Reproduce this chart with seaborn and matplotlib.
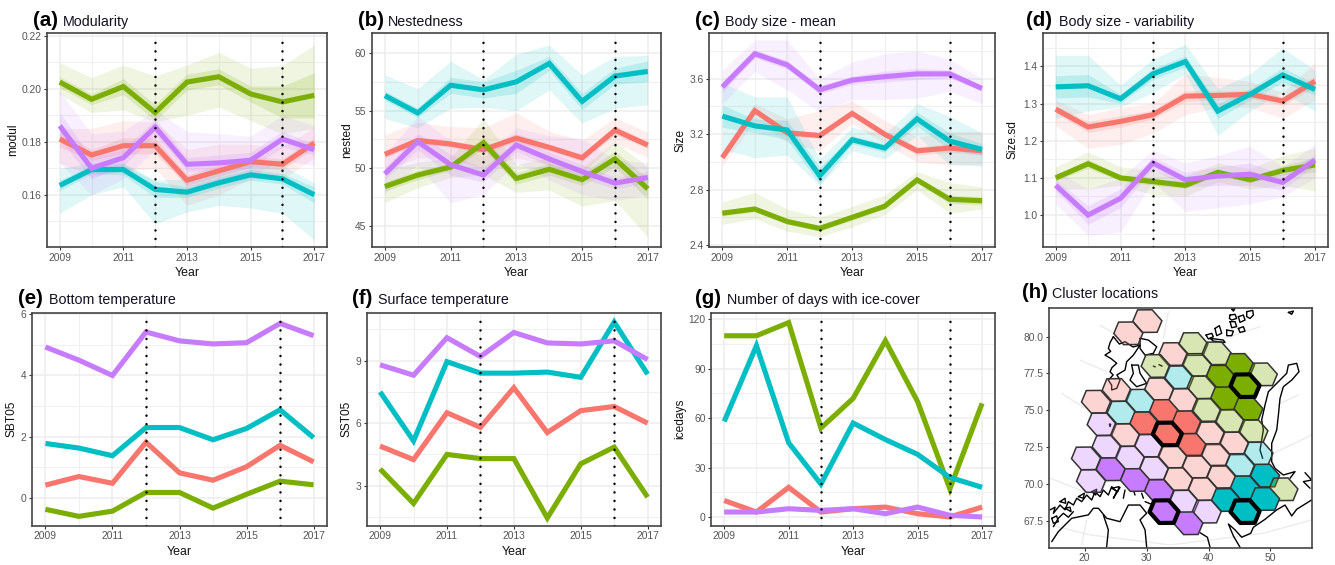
import matplotlib
matplotlib.use('Agg')
import matplotlib.pyplot as plt
import pandas as pd
import seaborn as sns

years = [2009, 2010, 2011, 2012, 2013, 2014, 2015, 2016, 2017]
clusters = ['red', 'green', 'cyan', 'purple']
colours = {'red': '#F8766D', 'green': '#7CAE00', 'cyan': '#00BFC4', 'purple': '#C77CFF'}

# (a) modularity: mean, outer band low/high, inner half width
modul_red = [.181, .175, .1785, .1785, .1655, .169, .1725, .1715, .1795]
modul_red_lo = [.172, .167, .169, .170, .156, .160, .166, .166, .174]
modul_red_hi = [.185, .185, .188, .1875, .177, .179, .179, .178, .1855]
modul_red_se = [.003, .002, .003, .003, .002, .002, .002, .002, .002]
modul_green = [.2025, .196, .2008, .191, .2025, .2045, .198, .195, .1975]
modul_green_lo = [.198, .191, .192, .1875, .190, .193, .188, .183, .185]
modul_green_hi = [.2098, .2042, .2089, .2048, .2089, .2137, .2077, .2087, .2165]
modul_green_se = [.002, .002, .003, .003, .003, .003, .003, .006, .0085]
modul_cyan = [.1635, .1695, .1695, .162, .161, .1645, .1675, .166, .160]
modul_cyan_lo = [.153, .160, .163, .149, .1535, .156, .155, .153, .143]
modul_cyan_hi = [.170, .172, .172, .1655, .166, .170, .172, .171, .1645]
modul_cyan_se = [.002, .0015, .002, .003, .002, .002, .002, .002, .003]
modul_purple = [.186, .170, .174, .1855, .1715, .172, .173, .181, .177]
modul_purple_lo = [.172, .160, .166, .177, .163, .165, .167, .173, .171]
modul_purple_hi = [.199, .183, .184, .192, .1838, .183, .182, .190, .186]
modul_purple_se = [.005, .004, .003, .003, .0025, .003, .003, .003, .002]

# (b) nestedness
nested_red = [51.2, 52.4, 52.1, 51.6, 52.6, 51.8, 50.9, 53.3, 52.0]
nested_red_lo = [49.8, 50.9, 50.8, 50.0, 50.9, 50.3, 49.6, 52.2, 50.9]
nested_red_hi = [52.9, 54.0, 53.6, 53.5, 54.8, 53.2, 52.4, 54.4, 53.1]
nested_red_se = [.3, .3, .3, .3, .4, .3, .3, .4, .3]
nested_green = [48.4, 49.4, 50.1, 52.2, 49.1, 49.9, 49.0, 50.8, 48.2]
nested_green_lo = [47.0, 48.3, 49.2, 49.4, 47.9, 48.1, 46.7, 47.2, 44.0]
nested_green_hi = [49.9, 50.5, 50.9, 54.3, 50.3, 50.9, 50.0, 52.3, 50.1]
nested_green_se = [.4, .4, .3, .5, .5, .5, .5, .7, .9]
nested_cyan = [56.3, 54.8, 57.2, 56.8, 57.5, 59.1, 55.8, 58.0, 58.4]
nested_cyan_lo = [54.3, 53.5, 55.2, 55.3, 55.0, 56.8, 53.9, 55.2, 55.5]
nested_cyan_hi = [58.1, 56.9, 59.3, 57.7, 59.9, 60.7, 58.1, 59.7, 59.8]
nested_cyan_se = [.4, .4, .7, .7, 1.0, .6, .7, .7, .9]
nested_purple = [49.5, 52.3, 50.3, 49.4, 52.0, 50.8, 49.7, 48.7, 49.2]
nested_purple_lo = [47.8, 50.3, 47.0, 47.7, 50.5, 49.0, 47.7, 47.2, 47.7]
nested_purple_hi = [51.2, 54.5, 52.4, 51.0, 53.5, 52.8, 52.6, 50.7, 50.5]
nested_purple_se = [.5, .7, .9, .6, .5, .6, .6, .5, .5]

# (c) body size mean
size_red = [3.03, 3.37, 3.21, 3.19, 3.35, 3.20, 3.08, 3.10, 3.08]
size_red_lo = [2.97, 3.30, 3.14, 3.08, 3.28, 3.13, 3.00, 2.98, 2.98]
size_red_hi = [3.08, 3.42, 3.31, 3.37, 3.44, 3.30, 3.18, 3.22, 3.22]
size_red_se = [.01, .02, .02, .02, .02, .02, .03, .03, .03]
size_green = [2.63, 2.66, 2.57, 2.52, 2.60, 2.68, 2.87, 2.73, 2.72]
size_green_lo = [2.55, 2.59, 2.50, 2.46, 2.53, 2.62, 2.80, 2.63, 2.66]
size_green_hi = [2.71, 2.78, 2.66, 2.60, 2.68, 2.76, 2.93, 2.85, 2.82]
size_green_se = [.02, .02, .02, .02, .02, .02, .02, .03, .03]
size_cyan = [3.33, 3.26, 3.23, 2.90, 3.16, 3.10, 3.31, 3.15, 3.09]
size_cyan_lo = [3.09, 3.03, 3.05, 2.83, 3.08, 3.02, 3.19, 2.98, 2.97]
size_cyan_hi = [3.57, 3.47, 3.47, 3.02, 3.25, 3.20, 3.42, 3.33, 3.21]
size_cyan_se = [.08, .05, .07, .06, .03, .03, .05, .06, .04]
size_purple = [3.54, 3.78, 3.70, 3.52, 3.59, 3.615, 3.635, 3.635, 3.53]
size_purple_lo = [3.42, 3.65, 3.52, 3.36, 3.45, 3.45, 3.46, 3.51, 3.42]
size_purple_hi = [3.66, 3.88, 3.88, 3.60, 3.72, 3.78, 3.80, 3.74, 3.60]
size_purple_se = [.04, .03, .03, .03, .03, .04, .04, .03, .02]

# (d) body size variability
sd_red = [1.285, 1.237, 1.252, 1.27, 1.32, 1.322, 1.325, 1.307, 1.36]
sd_red_lo = [1.24, 1.18, 1.19, 1.22, 1.27, 1.29, 1.29, 1.26, 1.31]
sd_red_hi = [1.31, 1.27, 1.29, 1.30, 1.38, 1.37, 1.36, 1.33, 1.41]
sd_red_se = [.01, .015, .015, .012, .015, .012, .01, .012, .015]
sd_green = [1.10, 1.138, 1.10, 1.09, 1.08, 1.115, 1.095, 1.12, 1.135]
sd_green_lo = [1.07, 1.07, 1.08, 1.055, 1.05, 1.09, 1.07, 1.08, 1.065]
sd_green_hi = [1.13, 1.17, 1.13, 1.12, 1.105, 1.14, 1.125, 1.16, 1.18]
sd_green_se = [.008, .012, .008, .01, .008, .008, .008, .012, .02]
sd_cyan = [1.345, 1.348, 1.313, 1.38, 1.413, 1.28, 1.325, 1.377, 1.338]
sd_cyan_lo = [1.26, 1.28, 1.29, 1.33, 1.38, 1.215, 1.28, 1.33, 1.28]
sd_cyan_hi = [1.43, 1.43, 1.35, 1.42, 1.46, 1.34, 1.38, 1.45, 1.39]
sd_cyan_se = [.03, .03, .012, .015, .015, .02, .015, .02, .015]
sd_purple = [1.08, 1.0, 1.045, 1.14, 1.095, 1.105, 1.11, 1.088, 1.148]
sd_purple_lo = [1.03, .945, .955, 1.09, 1.01, 1.02, 1.03, 1.05, 1.10]
sd_purple_hi = [1.12, 1.07, 1.10, 1.175, 1.14, 1.16, 1.185, 1.13, 1.19]
sd_purple_se = [.015, .025, .025, .015, .02, .025, .03, .02, .015]

# (e) bottom temperature
sbt_red = [.42, .7, .48, 1.82, .82, .58, 1.02, 1.72, 1.18]
sbt_green = [-.37, -.6, -.43, .18, .18, -.33, .12, .55, .43]
sbt_cyan = [1.78, 1.63, 1.38, 2.3, 2.3, 1.9, 2.27, 2.88, 1.97]
sbt_purple = [4.93, 4.5, 4.0, 5.42, 5.13, 5.03, 5.07, 5.7, 5.3]

# (f) surface temperature
sst_red = [4.9, 4.25, 6.5, 5.8, 7.7, 5.55, 6.6, 6.8, 6.0]
sst_green = [3.8, 2.15, 4.5, 4.3, 4.3, 1.45, 4.05, 4.85, 2.45]
sst_cyan = [7.5, 5.15, 8.95, 8.4, 8.4, 8.45, 8.2, 10.85, 8.35]
sst_purple = [8.8, 8.3, 10.1, 9.2, 10.35, 9.85, 9.8, 9.95, 9.05]

# (g) ice days
ice_red = [10, 3, 18, 3, 5, 6, 2, 0, 6]
ice_green = [110, 110, 118, 54, 72, 107, 70, 17, 69]
ice_cyan = [58, 104, 45, 20, 57, 47, 38, 24, 18]
ice_purple = [3, 3, 5, 4, 5, 2, 6, 1, 0]

# (h) map cells: lon, lat, cluster (solid = core cell)
cell_lon = [30.12, 27.05, 37.55, 34.32, 41.32, 31.47, 38.09, 35.24, 45.09, 41.97, 48.76, 45.90,
            32.01, 25.17, 38.90, 42.67, 35.94, 28.94, 21.83, 46.44, 39.71, 32.82, 25.98, 43.48,
            36.48, 29.64, 22.75, 47.25, 40.25, 33.35, 26.52, 44.12, 37.29, 30.39, 23.55, 48.06,
            41.16, 34.16, 27.32, 20.22, 45.09, 38.09, 31.20, 24.20, 49.13, 42.13, 35.13, 28.13,
            21.02, 45.90, 39.06, 32.01, 52.09, 49.13, 42.83, 36.05, 45.90, 39.71, 32.82, 36.75]
cell_lat = [81.06, 80.23, 79.50, 78.82, 78.87, 78.01, 78.08, 77.24, 78.08, 77.28, 77.44, 76.67,
            76.42, 76.38, 76.56, 75.81, 75.70, 75.65, 75.58, 75.09, 75.02, 74.95, 74.84, 74.27,
            74.18, 74.11, 74.04, 73.59, 73.43, 73.39, 73.32, 72.75, 72.64, 72.60, 72.53, 72.07,
            71.96, 71.85, 71.78, 71.73, 71.28, 71.17, 71.06, 70.99, 70.56, 70.49, 70.33, 70.26,
            70.19, 69.76, 69.65, 69.51, 69.63, 68.97, 68.90, 68.79, 68.11, 68.11, 68.11, 67.32]
cell_cluster = ['red', 'red', 'green', 'red', 'green', 'green', 'green', 'cyan', 'green', 'green', 'green', 'green',
                'red', 'red', 'green', 'green', 'red', 'cyan', 'red', 'green', 'green', 'red', 'cyan', 'green',
                'red', 'red', 'purple', 'green', 'red', 'red', 'red', 'red', 'red', 'purple', 'purple', 'cyan',
                'red', 'red', 'purple', 'purple', 'cyan', 'red', 'purple', 'purple', 'cyan', 'red', 'red', 'purple',
                'purple', 'cyan', 'red', 'purple', 'green', 'cyan', 'cyan', 'purple', 'cyan', 'purple', 'purple', 'purple']
cell_solid = [0, 0, 0, 0, 0, 0, 0, 0, 1, 1, 0, 2,
              0, 0, 0, 1, 0, 0, 0, 1, 0, 1, 0, 0,
              1, 1, 0, 0, 0, 2, 0, 0, 1, 0, 0, 0,
              0, 0, 0, 0, 0, 0, 0, 1, 1, 0, 0, 1,
              0, 1, 0, 1, 0, 1, 1, 0, 2, 0, 2, 1]
hex_dlon = [2.35, .77, -1.58, -2.35, -.77, 1.58]
hex_dlat = [.02, .77, .76, -.02, -.77, -.76]

# coastlines as lon/lat
coast = [
    ([24.63, 24.1, 23.82, 24.2, 23.28, 24.3, 25.17, 24.4, 24.09, 24.6, 23.82, 24.36, 24.36, 25.17, 25.71, 25.2, 26.51, 26.78,
      27.86, 28.94, 27.8, 26.51, 25.6, 24.63],
     [80.0, 79.6, 79.2, 79.0, 78.75, 78.5, 78.19, 77.9, 77.62, 77.4, 77.05, 76.7, 76.38, 76.49, 77.05, 77.4, 77.73, 78.3,
      78.75, 79.43, 79.3, 79.66, 79.5, 80.0]),
    ([28.94, 30.28, 31.63, 31.09, 29.75, 28.94, 28.94], [79.89, 79.77, 79.32, 78.87, 78.75, 79.2, 79.89]),
    ([27.59, 28.67, 28.94, 30.01, 28.4, 27.32, 27.86, 27.59], [78.07, 78.07, 77.51, 76.83, 76.6, 77.05, 77.51, 78.07]),
    ([31.09, 31.4], [78.0, 77.95]),
    ([32.0, 32.5], [78.1, 78.0]),
    ([24.0, 24.2, 24.1, 24.0], [74.05, 74.05, 73.9, 74.05]),
    # islands in the north east
    ([43.75, 44.29, 44.02, 43.75], [81.88, 81.92, 81.74, 81.88]),
    ([43.48, 44.29, 44.55, 43.75, 43.37, 43.48], [81.47, 81.52, 81.24, 81.13, 81.24, 81.47]),
    ([44.82, 45.63, 45.9, 45.09, 44.82], [81.36, 81.47, 81.13, 80.97, 81.36]),
    ([46.17, 47.14, 47.25, 46.71, 46.17, 46.17], [81.70, 81.79, 81.47, 81.24, 81.36, 81.70]),
    ([43.48, 44.29, 44.55, 43.75, 43.48], [81.02, 81.02, 80.68, 80.61, 81.02]),
    ([44.82, 45.63, 45.9, 45.09, 44.82], [80.56, 80.68, 80.38, 80.29, 80.56]),
    ([42.94, 44.02, 43.75, 42.94, 42.94], [80.45, 80.38, 80.07, 80.07, 80.45]),
    ([39.6, 40.52, 40.79, 39.98, 39.6], [80.11, 80.23, 80.0, 79.84, 80.11]),
    ([41.05, 41.75, 42.13, 41.32, 41.05], [80.56, 80.75, 80.23, 80.07, 80.56]),
    ([40.25, 42.4, 42.67, 40.79, 40.25], [79.89, 79.77, 79.61, 79.7, 79.89]),
    ([52.9, 53.71, 53.44, 52.9], [81.65, 81.74, 81.52, 81.65]),
    # long island and the mainland
    ([48.75, 48.32, 48.86, 48.59, 49.13, 49.67, 51.02, 52.63, 52.9, 54.25, 54.62, 53.44, 52.09, 51.55, 51.29, 51.02, 50.21,
      50.21, 50.75, 52.09, 53.98, 53.17],
     [71.73, 72.3, 73.66, 74.34, 75.36, 76.26, 76.83, 77.51, 78.07, 78.19, 77.62, 77.05, 76.6, 75.81, 74.68, 73.66, 72.75,
      71.5, 71.05, 70.6, 70.83, 70.38]),
    ([55.59, 56.67, 55.32, 56.4], [70.76, 70.26, 70.15, 69.7]),
    ([56.83, 54.25, 53.44, 52.36, 51.02, 49.13, 47.25, 46.82, 45.36, 44.29, 43.21, 44.02, 45.09],
     [68.95, 68.27, 67.82, 68.56, 68.23, 67.59, 67.05, 66.64, 66.37, 66.87, 67.27, 66.46, 65.69]),
    ([38.63, 39.82, 40.25], [66.68, 66.37, 65.69]),
    ([14.40, 15.21, 14.94, 16.01, 16.82, 17.36, 18.17, 18.71, 19.51, 20.32, 21.13, 21.67, 22.48, 23.01, 23.82, 24.36, 25.17,
      24.63, 25.71],
     [68.23, 68.41, 68.00, 68.56, 68.23, 68.79, 68.56, 69.02, 68.79, 69.24, 68.90, 69.47, 69.13, 69.58, 69.24, 69.81, 69.47,
      69.02, 69.76]),
    ([14.94, 15.74, 16.55, 17.36, 18.17], [67.09, 67.66, 68.0, 67.73, 68.11]),
    ([14.67, 15.74, 17.9, 20.59, 21.4, 22.21, 23.55, 25.71, 27.05, 28.94, 30.01, 28.94, 29.75, 30.01],
     [66.07, 66.75, 67.66, 67.89, 68.34, 68.34, 67.66, 67.43, 68.56, 68.56, 68.0, 67.55, 66.87, 65.7]),
    ([23.01, 23.82, 23.55], [67.89, 66.87, 65.73]),
    ([26.51, 26.24], [69.58, 69.02]),
    ([27.86, 28.13], [69.58, 69.24]),
    ([29.2, 29.48], [69.36, 69.02]),
    ([29.75, 31.09], [68.79, 68.56]),
    # small islands along the northern coast
    ([16.01, 16.82, 16.93, 16.01], [68.79, 69.02, 68.68, 68.79]),
    ([18.98, 19.94, 19.78, 18.98], [69.13, 69.36, 69.02, 69.13]),
    ([21.13, 21.94, 21.78, 21.13], [69.47, 69.63, 69.24, 69.47]),
    ([24.36, 25.55, 25.33, 24.36], [69.7, 69.81, 69.47, 69.7]),
    ([14.67, 15.47, 15.74, 14.94, 14.67], [67.66, 67.82, 67.43, 67.32, 67.66]),
    ([16.82, 17.63, 17.79, 16.82], [68.34, 68.41, 68.11, 68.34]),
]

# faint graticule on the map
graticule = [
    ([22.48, 25.17], [80.79, 80.11]),
    ([19.25, 23.55], [78.41, 77.62]),
    ([16.28, 20.05], [76.15, 75.13]),
    ([33.52, 32.71], [81.7, 79.89]),
    ([48.33, 42.67], [80.68, 79.89]),
    ([54.52, 51.02], [76.04, 75.36]),
    ([56.67, 50.48], [73.32, 72.07]),
    ([14.4, 20.59], [70.38, 69.36]),
    ([14.4, 20.86, 33.79, 48.86, 56.67], [67.21, 66.53, 65.85, 66.64, 67.55]),
    ([20.32, 19.52], [67.55, 65.85]),
]

sns.set_theme(style="white")
plt.rcParams['font.family'] = ['Liberation Sans', 'DejaVu Sans']

W, H = 1335, 565
fig = plt.figure(figsize=(W / 100, H / 100), dpi=100)


def make_axes(left, right, top, bottom):
    ax = fig.add_axes([left / W, 1 - bottom / H, (right - left) / W, (bottom - top) / H])
    ax.set_facecolor('white')
    for s in ax.spines.values():
        s.set_color('#444444')
        s.set_linewidth(1.2)
    ax.tick_params(axis='both', which='major', length=2.5, width=.8, color='#333333',
                   labelsize=7.4, labelcolor='#555555', pad=1.5, bottom=True, left=True)
    ax.tick_params(axis='both', which='minor', length=0)
    return ax


def panel_titles(tag, tag_x, title, title_x, y):
    fig.text(tag_x / W, 1 - y / H, tag, fontsize=14.8, fontweight='bold', color='black', va='baseline')
    fig.text(title_x / W, 1 - y / H, title, fontsize=10.3, color='#111122', va='baseline')


def time_panel(box, ylim, ticks, minor, fmt, ylabel, ylabel_x, series, bands=None):
    left, right, top, bottom = box
    ax = make_axes(left, right, top, bottom)
    ax.grid(True, which='major', color='#ededed', lw=1.1)
    ax.grid(True, which='minor', color='#f0f0f0', lw=.8)
    ax.set_axisbelow(True)
    if bands:
        for c in clusters:
            mean, lo, hi, se = bands[c]
            ax.fill_between(years, lo, hi, color=colours[c], alpha=.12, lw=0)
            ax.fill_between(years, [m - s for m, s in zip(mean, se)], [m + s for m, s in zip(mean, se)],
                            color=colours[c], alpha=.17, lw=0)
    df = pd.DataFrame({'Year': years * 4,
                       'value': sum([series[c] for c in clusters], []),
                       'cluster': sum([[c] * len(years) for c in clusters], [])})
    sns.lineplot(data=df, x='Year', y='value', hue='cluster', hue_order=clusters, palette=colours,
                 lw=3.7, legend=False, errorbar=None, ax=ax, solid_capstyle='butt', solid_joinstyle='miter')
    for yr in [2012, 2016]:
        ax.axvline(yr, ymin=0, ymax=.97, color='black', lw=1.8, ls=(0, (.01, 3.4)), dash_capstyle='round', zorder=5)
    ax.set_xlim(2008.6, 2017.4)
    ax.set_ylim(*ylim)
    ax.set_xticks([2009, 2011, 2013, 2015, 2017])
    ax.set_xticks([2010, 2012, 2014, 2016], minor=True)
    ax.set_yticks(ticks)
    ax.set_yticks(minor, minor=True)
    ax.set_yticklabels([fmt % t for t in ticks])
    ax.set_xlabel('Year', fontsize=8.9, color='#111111', va='center')
    ax.set_ylabel(ylabel, fontsize=8.6, color='#111111', va='center')
    ax.xaxis.set_label_coords(.5, -26 / (bottom - top))
    ax.yaxis.set_label_coords((ylabel_x - left) / (right - left), .5)
    return ax


def band_set(r, rl, rh, rs, g, gl, gh, gs, c, cl, ch, cs, p, pl, ph, ps):
    return {'red': (r, rl, rh, rs), 'green': (g, gl, gh, gs), 'cyan': (c, cl, ch, cs), 'purple': (p, pl, ph, ps)}


# 1. Top row, with ribbons
time_panel((47, 327, 33, 247), (.1403, .221), [.16, .18, .20, .22], [.15, .17, .19, .21], '%.2f', 'modul', 12.7,
           {'red': modul_red, 'green': modul_green, 'cyan': modul_cyan, 'purple': modul_purple},
           band_set(modul_red, modul_red_lo, modul_red_hi, modul_red_se,
                    modul_green, modul_green_lo, modul_green_hi, modul_green_se,
                    modul_cyan, modul_cyan_lo, modul_cyan_hi, modul_cyan_se,
                    modul_purple, modul_purple_lo, modul_purple_hi, modul_purple_se))
time_panel((371.7, 661, 33, 247), (43.15, 61.74), [45, 50, 55, 60], [47.5, 52.5, 57.5], '%d', 'nested', 346.7,
           {'red': nested_red, 'green': nested_green, 'cyan': nested_cyan, 'purple': nested_purple},
           band_set(nested_red, nested_red_lo, nested_red_hi, nested_red_se,
                    nested_green, nested_green_lo, nested_green_hi, nested_green_se,
                    nested_cyan, nested_cyan_lo, nested_cyan_hi, nested_cyan_se,
                    nested_purple, nested_purple_lo, nested_purple_hi, nested_purple_se))
time_panel((709.3, 995, 33, 247), (2.386, 3.93), [2.4, 2.8, 3.2, 3.6], [2.6, 3.0, 3.4, 3.8], '%.1f', 'Size', 680,
           {'red': size_red, 'green': size_green, 'cyan': size_cyan, 'purple': size_purple},
           band_set(size_red, size_red_lo, size_red_hi, size_red_se,
                    size_green, size_green_lo, size_green_hi, size_green_se,
                    size_cyan, size_cyan_lo, size_cyan_hi, size_cyan_se,
                    size_purple, size_purple_lo, size_purple_hi, size_purple_se))
time_panel((1042.7, 1328, 33, 247), (.914, 1.49), [1.0, 1.1, 1.2, 1.3, 1.4], [.95, 1.05, 1.15, 1.25, 1.35, 1.45],
           '%.1f', 'Size.sd', 1013,
           {'red': sd_red, 'green': sd_green, 'cyan': sd_cyan, 'purple': sd_purple},
           band_set(sd_red, sd_red_lo, sd_red_hi, sd_red_se,
                    sd_green, sd_green_lo, sd_green_hi, sd_green_se,
                    sd_cyan, sd_cyan_lo, sd_cyan_hi, sd_cyan_se,
                    sd_purple, sd_purple_lo, sd_purple_hi, sd_purple_se))

# 2. Bottom row, environment
time_panel((32, 327, 312.7, 525.7), (-.905, 6.05), [0, 2, 4, 6], [1, 3, 5], '%d', 'SBT05', 11.7,
           {'red': sbt_red, 'green': sbt_green, 'cyan': sbt_cyan, 'purple': sbt_purple})
time_panel((366.7, 661, 312.7, 525.7), (1.08, 11.3), [3, 6, 9], [1.5, 4.5, 7.5, 10.5], '%d', 'SST05', 346,
           {'red': sst_red, 'green': sst_green, 'cyan': sst_cyan, 'purple': sst_purple})
time_panel((711.3, 995, 312.7, 525.7), (-5.3, 124), [0, 30, 60, 90, 120], [15, 45, 75, 105], '%d', 'icedays', 680.7,
           {'red': ice_red, 'green': ice_green, 'cyan': ice_cyan, 'purple': ice_purple})

# 3. Map of clusters
ax = make_axes(1049.3, 1311.7, 307.7, 547.7)
for lons, lats in graticule:
    ax.plot(lons, lats, color='#ececec', lw=1, zorder=1)
for lons, lats in coast:
    ax.plot(lons, lats, color='black', lw=1.0, zorder=2, solid_joinstyle='round')
for lon, lat, c, solid in zip(cell_lon, cell_lat, cell_cluster, cell_solid):
    xs = [lon + d for d in hex_dlon]
    ys = [lat + d for d in hex_dlat]
    alpha = 1 if solid else .3
    ax.fill(xs, ys, facecolor=matplotlib.colors.to_rgba(colours[c], alpha), edgecolor='#333333', lw=1.1, zorder=3)
for lon, lat, solid in zip(cell_lon, cell_lat, cell_solid):
    if solid == 2:
        ax.fill([lon + d for d in hex_dlon], [lat + d for d in hex_dlat], fill=False,
                edgecolor='black', lw=3.0, zorder=4, joinstyle='round')
ax.set_xlim(14.28, 56.67)
ax.set_ylim(65.66, 81.97)
ax.set_xticks([20, 30, 40, 50])
ax.set_yticks([67.5, 70, 72.5, 75, 77.5, 80])
ax.set_yticklabels(['67.5', '70.0', '72.5', '75.0', '77.5', '80.0'])

# 4. Panel letters and titles
panel_titles('(a)', 33, 'Modularity', 63, 26)
panel_titles('(b)', 357.7, 'Nestedness', 388.3, 26)
panel_titles('(c)', 695, 'Body size - mean', 725, 26)
panel_titles('(d)', 1026, 'Body size - variability', 1059, 26)
panel_titles('(e)', 18.3, 'Bottom temperature', 49, 304)
panel_titles('(f)', 351.7, 'Surface temperature', 378.3, 304)
panel_titles('(g)', 695, 'Number of days with ice-cover', 727.3, 304)
panel_titles('(h)', 1021.7, 'Cluster locations', 1052.3, 297.7)

fig.savefig('out.png', dpi=100)
